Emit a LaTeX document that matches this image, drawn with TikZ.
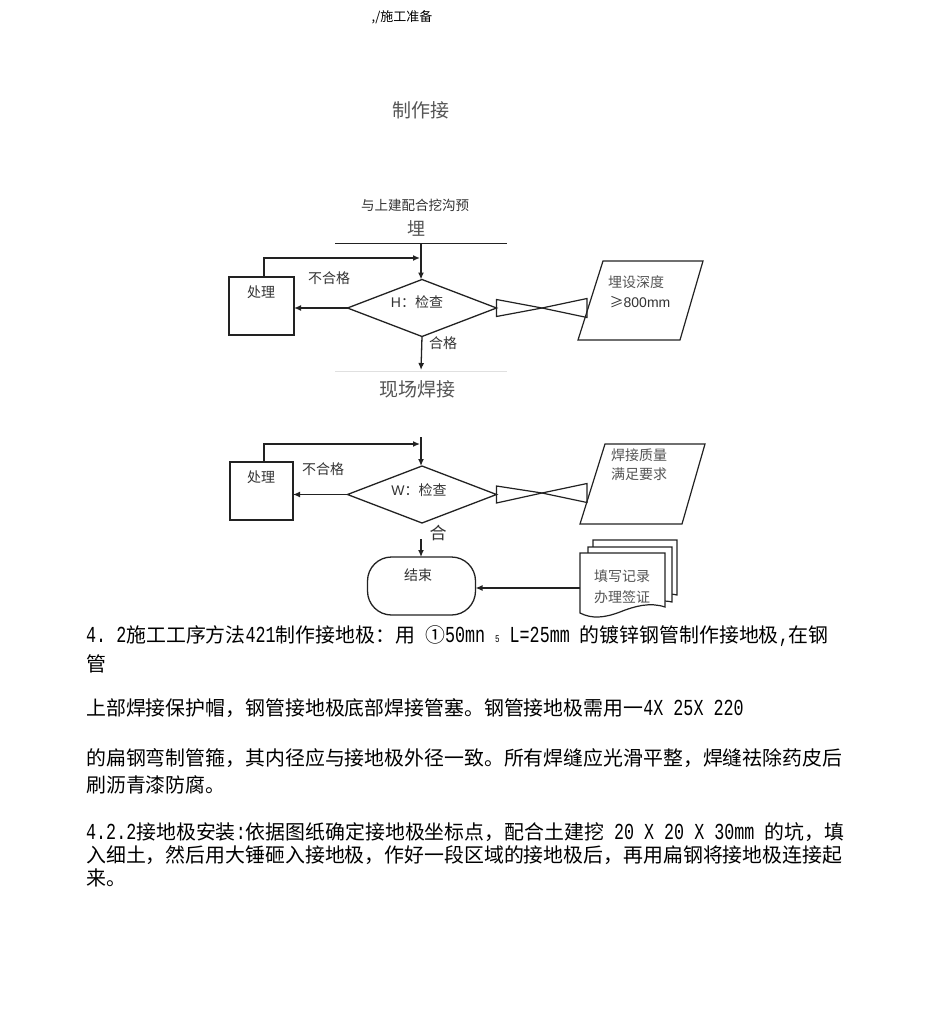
\documentclass[tikz,border=0pt]{standalone}
\usepackage{fontspec}
\setmainfont{Noto Sans CJK SC}
\newfontfamily\lat{Liberation Sans}
\newfontfamily\mono[Scale=1.15,FakeStretch=0.73]{Liberation Mono}
\usetikzlibrary{arrows.meta,shapes.geometric}
\definecolor{ln}{HTML}{222222}
\definecolor{lab}{HTML}{333333}
\definecolor{head}{HTML}{555555}
\tikzset{
  flow/.style={draw=ln, line width=1.3pt},
  arr/.style={flow, -{Latex[length=7pt,width=6pt]}},
  lbl/.style={text=lab, inner sep=0pt, font=\fontsize{14}{16}\selectfont},
  hd/.style={text=head, inner sep=0pt},
  body/.style={text=black, inner sep=0pt, anchor=west, font=\fontsize{19.9}{22}\selectfont},
  dia/.style={diamond, draw=ln, line width=1.3pt, minimum width=149pt, minimum height=57pt, inner sep=0pt, outer sep=0pt},
  procbox/.style={draw=ln, line width=1.2pt, inner sep=0pt, outer sep=0pt},
  shape2/.style={draw=ln, line width=1.2pt},
}
\newcommand{\lm}[1]{{\mono #1}}
\begin{document}
\begin{tikzpicture}[x=1pt,y=-1pt]
\useasboundingbox (0,0) rectangle (950,1020);
\fill[white] (0,0) rectangle (950,1020);

% headers
\node[inner sep=0pt, font=\fontsize{13}{15}\selectfont] (top) at (402,17) {,/施工准备};
\node[hd, font=\fontsize{19}{21}\selectfont] (make) at (421,110) {制作接};
\node[lbl, font=\fontsize{13.5}{15}\selectfont] (t1) at (415,205) {与上建配合挖沟预};
\node[hd, font=\fontsize{18}{20}\selectfont] (t2) at (416,228) {埋};

% ---------- section 1 ----------
\coordinate (hl1) at (335,243);
\coordinate (hl2) at (507,243);
\draw[flow, line width=1pt] (hl1) -- (hl2);
\coordinate (v1) at (421,243);
\node[dia] (d1) at (422,308) {};
\draw[arr] (v1) -- (v1 |- d1.north);
\node[procbox, minimum width=65pt, minimum height=58pt] (b1) at (261.5,306) {};
\draw[draw=ln, line width=2.6pt] (b1.north west) -- (b1.south west) -- (b1.south east);
\node[lbl] (b1t) at (261,292) {处理};
\coordinate (fb1) at (264,258);
\coordinate (fbe1) at (420,258);
\draw[arr] (b1.north -| fb1) |- (fbe1);
\node[lbl] (ng1) at (329,278) {不合格};
\draw[arr] (d1.west) -- (d1.west -| b1.east);
\node[lbl] (h1) at (417,302) {{\lat H}：检查};
% bow tie 1
\coordinate (bt1) at (542,308);
\draw[shape2] (d1.east) ++(0,-8.5) -- ++(0,17) -- (bt1) -- cycle;
\draw[shape2] (587,298.5) -- (587,317.5) -- (bt1) -- cycle;
% parallelogram 1
\draw[shape2] (603,261) -- (703,261) -- (680,340) -- (578,340) -- cycle;
\node[lbl, text=head] (p1a) at (636,282) {埋设深度};
\node[lbl] (p1b) at (640,302) {≥{\lat 800mm}};
% down
\coordinate (c1) at (421,370);
\draw[arr] (d1.south) -- (c1);
\node[lbl] (ok1) at (443,343) {合格};
\draw[black!12, line width=0.8pt] (335,371) -- (507,371);
\node[hd, font=\fontsize{19}{21}\selectfont] (weld) at (417,389) {现场焊接};

% ---------- section 2 ----------
\coordinate (v2) at (421,437);
\node[dia] (d2) at (422,494.5) {};
\draw[arr] (v2) -- (v2 |- d2.north);
\node[procbox, minimum width=63pt, minimum height=58pt] (b2) at (261.5,491) {};
\draw[draw=ln, line width=2.6pt] (b2.north west) -- (b2.south west) -- (b2.south east);
\node[lbl] (b2t) at (261,477) {处理};
\coordinate (fb2) at (264,444);
\coordinate (fbe2) at (420,444);
\draw[arr] (b2.north -| fb2) |- (fbe2);
\node[lbl] (ng2) at (323,469) {不合格};
\draw[arr] (d2.west) -- (d2.west -| b2.east);
\node[lbl] (w2) at (419,490) {{\lat W}：检查};
% bow tie 2
\coordinate (bt2) at (542,493);
\draw[shape2] (d2.east) ++(0,-8.5) -- ++(0,17) -- (bt2) -- cycle;
\draw[shape2] (587,483.5) -- (587,502.5) -- (bt2) -- cycle;
% parallelogram 2
\draw[shape2] (605,444) -- (705,444) -- (682,524) -- (580,524) -- cycle;
\node[lbl, text=head] (p2a) at (639,455) {焊接质量};
\node[lbl, text=head] (p2b) at (639,474) {满足要求};
% 合 + terminal
\node[lbl, font=\fontsize{17}{19}\selectfont] (ok2) at (438,533) {合};
\node[draw=ln, line width=1.3pt, rounded corners=24pt, minimum width=108pt, minimum height=58pt, inner sep=0pt, outer sep=0pt] (term) at (421.5,586) {};
\node[lbl] (termt) at (418,575) {结束};
\coordinate (v3) at (421,539);
\draw[arr] (v3) -- (v3 |- term.north);
% multi document
\draw[shape2, fill=white] (593,540) -- (677,540) -- (677,595) .. controls (668,593) and (660,594) .. (652,597) -- (593,597) -- cycle;
\draw[shape2, fill=white] (588,547) -- (672,547) -- (672,602) .. controls (663,600) and (655,601) .. (647,604) -- (588,604) -- cycle;
\draw[shape2, fill=white] (580,553) -- (665,553) -- (665,607) .. controls (650,602) and (635,606) .. (620,612) .. controls (604,618) and (592,619) .. (580,613) -- cycle;
\node[lbl, text=head] (doc1) at (622,576) {填写记录};
\node[lbl, text=head] (doc2) at (622,597) {办理签证};
\coordinate (docL) at (580,588);
\draw[arr] (docL) -- (docL -| term.east);

% ---------- body text ----------
\node[body] (l1) at (86,636) {\lm{4.\ 2}施工工序方法\lm{421}制作接地极：用\lm{ }①\lm{50mn }{\fontsize{9}{10}\selectfont\mono 5}\lm{ L=25mm }的镀锌钢管制作接地极\lm{,}在钢};
\node[body] (l2) at (86,664) {管};
\node[body] (l3) at (86,708) {上部焊接保护帽，钢管接地极底部焊接管塞。钢管接地极需用一\lm{4X 25X 220}};
\node[body] (l4) at (86,758) {的扁钢弯制管箍，其内径应与接地极外径一致。所有焊缝应光滑平整，焊缝祛除药皮后};
\node[body] (l5) at (86,785) {刷沥青漆防腐。};
\node[body] (l6) at (86,832) {\lm{4.2.2}接地极安装\lm{:}依据图纸确定接地极坐标点，配合土建挖\lm{ 20 X 20 X 30mm }的坑，填};
\node[body] (l7) at (86,855) {入细土，然后用大锤砸入接地极，作好一段区域的接地极后，再用扁钢将接地极连接起};
\node[body] (l8) at (86,878) {来。};
\end{tikzpicture}
\end{document}
